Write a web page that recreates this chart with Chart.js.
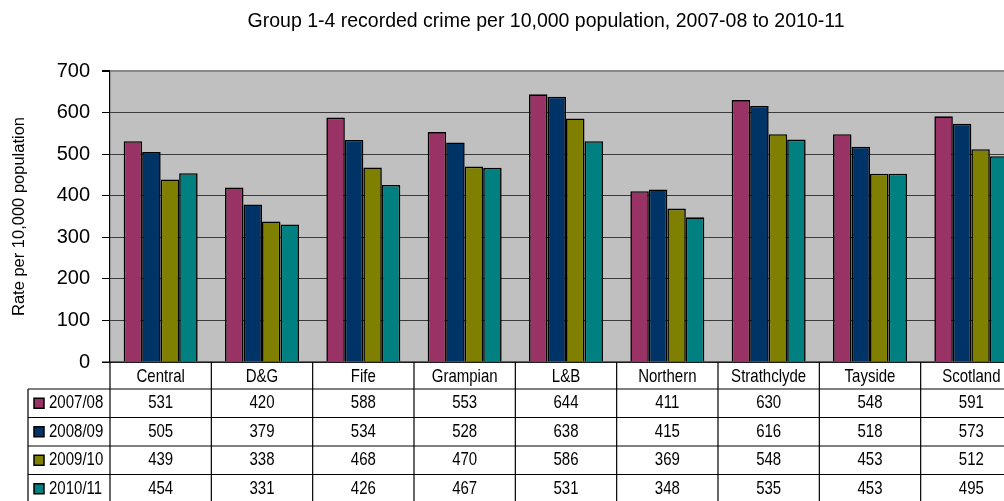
<!DOCTYPE html>
<html>
<head>
<meta charset="utf-8">
<script src="https://cdn.jsdelivr.net/npm/chart.js@4/dist/chart.umd.min.js"></script>
<style>
  html, body { margin: 0; padding: 0; background: #fff; overflow: hidden; }
  #wrap { width: 1004px; height: 501px; overflow: hidden; }
  canvas { display: block; }
</style>
</head>
<body>
<div id="wrap"><canvas id="crime" width="1040" height="501"></canvas></div>
<script>
// Рівень злочинності по поліцейських округах
const categories = ['Central', 'D&G', 'Fife', 'Grampian', 'L&B', 'Northern', 'Strathclyde', 'Tayside', 'Scotland'];
const years = ['2007/08', '2008/09', '2009/10', '2010/11'];
const rate0708 = [531, 420, 588, 553, 644, 411, 630, 548, 591];
const rate0809 = [505, 379, 534, 528, 638, 415, 616, 518, 573];
const rate0910 = [439, 338, 468, 470, 586, 369, 548, 453, 512];
const rate1011 = [454, 331, 426, 467, 531, 348, 535, 453, 495];
const yTicks = [0, 100, 200, 300, 400, 500, 600, 700];

const seriesValues = [rate0708, rate0809, rate0910, rate1011];
const colours = ['#993366', '#003366', '#808000', '#008080'];
const FONT = '"Liberation Sans", Arial, sans-serif';

// Сірий фон області графіка
const plotBackground = {
  id: 'plotBackground',
  beforeDraw(chart) {
    const { ctx, chartArea: a } = chart;
    ctx.save();
    ctx.fillStyle = '#c0c0c0';
    ctx.fillRect(a.left, a.top, a.right - a.left, a.bottom - a.top);
    ctx.restore();
  }
};

// Вузький текст для таблиці
function narrowText(ctx, text, x, y, align) {
  ctx.save();
  ctx.translate(x, y);
  ctx.scale(0.79, 1);
  ctx.textAlign = align;
  ctx.fillText(text, 0, 0);
  ctx.restore();
}

// Заголовок, підпис осі Y і таблиця даних під графіком
const dataTable = {
  id: 'dataTable',
  afterDraw(chart) {
    const { ctx, chartArea: a } = chart;
    const x = chart.scales.x;
    const step = (a.right - a.left) / categories.length;
    const headerTop = a.bottom;
    const headerBottom = 389;
    const rowH = 28.5;
    const tableLeft = 28;

    ctx.save();

    // заголовок
    ctx.fillStyle = '#000';
    ctx.font = '19.5px ' + FONT;
    ctx.textAlign = 'center';
    ctx.textBaseline = 'middle';
    ctx.fillText('Group 1-4 recorded crime per 10,000 population, 2007-08 to 2010-11', 546, 22);

    // підпис осі Y
    ctx.save();
    ctx.translate(19, (a.top + a.bottom) / 2);
    ctx.rotate(-Math.PI / 2);
    ctx.font = '16.5px ' + FONT;
    ctx.fillText('Rate per 10,000 population', 0, 0);
    ctx.restore();

    // лінії таблиці
    ctx.strokeStyle = '#000';
    ctx.lineWidth = 1.2;
    ctx.beginPath();
    ctx.moveTo(a.left - 8, headerTop);
    ctx.lineTo(a.right, headerTop);
    for (let r = 0; r < years.length; r++) {
      const y = headerBottom + r * rowH;
      ctx.moveTo(tableLeft, y);
      ctx.lineTo(a.right, y);
    }
    ctx.moveTo(tableLeft, headerBottom);
    ctx.lineTo(tableLeft, 501);
    for (let i = 0; i <= categories.length; i++) {
      const cx = a.left + i * step;
      ctx.moveTo(cx, headerTop);
      ctx.lineTo(cx, 501);
    }
    ctx.stroke();

    // назви категорій
    ctx.font = '19px ' + FONT;
    categories.forEach((name, i) => {
      narrowText(ctx, name, x.getPixelForValue(i), (headerTop + headerBottom) / 2 + 1, 'center');
    });

    // рядки зі значеннями та легендою
    years.forEach((year, r) => {
      const cy = headerBottom + r * rowH + rowH / 2;
      ctx.fillStyle = colours[r];
      ctx.fillRect(34, cy - 5, 10, 10);
      ctx.strokeStyle = '#000';
      ctx.lineWidth = 1.5;
      ctx.strokeRect(34, cy - 5, 10, 10);
      ctx.fillStyle = '#000';
      narrowText(ctx, year, 49, cy, 'left');
      seriesValues[r].forEach((v, i) => {
        narrowText(ctx, String(v), x.getPixelForValue(i), cy, 'center');
      });
    });

    ctx.restore();
  }
};

new Chart(document.getElementById('crime'), {
  type: 'bar',
  data: {
    labels: categories,
    datasets: years.map((year, i) => ({
      label: year,
      data: seriesValues[i],
      backgroundColor: colours[i],
      borderColor: '#000',
      borderWidth: 1.6,
      borderSkipped: 'bottom',
      barPercentage: 1,
      categoryPercentage: 0.73
    }))
  },
  options: {
    responsive: false,
    animation: false,
    layout: { padding: { left: 0, right: 18, top: 71, bottom: 139 } },
    plugins: {
      legend: { display: false },
      tooltip: { enabled: false }
    },
    scales: {
      x: { display: false },
      y: {
        min: yTicks[0],
        max: yTicks[yTicks.length - 1],
        afterFit(scale) { scale.width = 110; },
        afterBuildTicks(scale) { scale.ticks = yTicks.map(v => ({ value: v })); },
        ticks: {
          color: '#000',
          padding: 12,
          font: { family: FONT, size: 20 }
        },
        grid: {
          color: ctx => ctx.tick && ctx.tick.value === 700 ? '#8a8a8a' : '#3a3a3a',
          lineWidth: ctx => ctx.tick && ctx.tick.value === 700 ? 2 : 1,
          tickColor: '#000',
          tickLength: 8
        },
        border: { display: true, color: '#000', width: 1.2 }
      }
    }
  },
  plugins: [plotBackground, dataTable]
});
</script>
</body>
</html>
